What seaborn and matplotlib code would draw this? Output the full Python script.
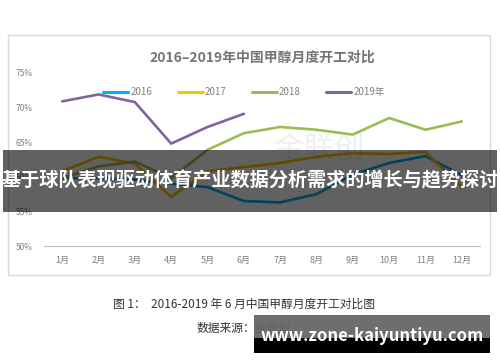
import numpy as np
import pandas as pd
import matplotlib
matplotlib.use('Agg')
import matplotlib.pyplot as plt
import seaborn as sns
from matplotlib.patches import Rectangle
from matplotlib.lines import Line2D

months = ['1月', '2月', '3月', '4月', '5月', '6月', '7月', '8月', '9月', '10月', '11月', '12月']
y2016 = [59.8, 59.8, 59.6, 59.0, 58.5, 56.5, 56.3, 57.5, 60.3, 62.0, 63.0, 60.2]
y2017 = [60.8, 62.9, 61.9, 57.1, 60.8, 61.4, 62.0, 62.9, 63.4, 63.3, 63.6, 58.5]
y2018 = [59.8, 61.5, 62.2, 59.8, 63.9, 66.3, 67.2, 66.8, 66.1, 68.5, 66.8, 68.0]
y2019 = [70.9, 71.9, 70.8, 64.8, 67.2, 69.1]
series = ['2016', '2017', '2018', '2019年']
colors = ['#00B0F0', '#FFC000', '#9BBB59', '#8064A2']
yticks = [50, 55, 60, 65, 70, 75]

rows = []
for name, vals in zip(series, [y2016, y2017, y2018, y2019]):
    for i, v in enumerate(vals):
        rows.append({'month': i, 'value': v, 'year': name})
df = pd.DataFrame(rows)

sns.set_theme(style='white')
plt.rcParams['font.family'] = ['Noto Sans CJK SC', 'DejaVu Sans']

fig = plt.figure(figsize=(5, 3.62), dpi=100)
W, H = 500, 362

def fx(x):
    return x / W

def fy(y):
    return 1 - y / H

# chart border
fig.patches.append(Rectangle((fx(8), fy(275)), fx(482), 240 / H, transform=fig.transFigure,
                             fill=False, edgecolor='#d9d9d9', linewidth=1.0, zorder=0))

ax = fig.add_axes([fx(44), fy(246), fx(436), (246 - 73) / H])
ax.patch.set_alpha(0)

# watermark
ax.text(0.63, 0.56, '金联创', transform=ax.transAxes, fontsize=22, color='#efefef',
        ha='center', va='center', zorder=0)
ax.text(0.6, 0.43, 'www.315i.com', transform=ax.transAxes, fontsize=8, color='#efefef',
        ha='center', va='center', zorder=0)

sns.lineplot(data=df, x='month', y='value', hue='year', palette=dict(zip(series, colors)),
             linewidth=1.9, ax=ax, legend=False, sort=False, zorder=3)

ax.set_xlim(-0.5, 11.5)
ax.set_ylim(50, 75)
ax.set_yticks(yticks)
ax.set_yticklabels([f'{t}%' for t in yticks], fontsize=6, color='#7f7f7f')
ax.set_xticks(range(12))
ax.set_xticklabels(months, fontsize=6.5, color='#7f7f7f')
ax.set_xticks(np.arange(-0.5, 12, 1), minor=True)
ax.tick_params(axis='x', which='major', length=0, pad=7)
ax.tick_params(axis='x', which='minor', length=3, color='#bfbfbf', width=0.8, direction='out')
ax.tick_params(axis='y', length=0, pad=8)
ax.set_xlabel('')
ax.set_ylabel('')
for s in ['top', 'right', 'left']:
    ax.spines[s].set_visible(False)
ax.spines['bottom'].set_color('#bfbfbf')
ax.spines['bottom'].set_linewidth(0.8)

fig.text(fx(262), fy(58), '2016–2019年中国甲醇月度开工对比', ha='center', va='center',
         fontsize=10, fontweight='bold', color='#757575')

handles = [Line2D([0], [0], color=c, lw=2.2) for c in colors]
fig.legend(handles, series, loc='center', bbox_to_anchor=(fx(244), fy(92)), ncol=4,
           frameon=False, fontsize=7, labelcolor='#7f7f7f', handlelength=2.6,
           handletextpad=0.2, columnspacing=2.6)

# overlay banner
fig.patches.append(Rectangle((fx(3), fy(212)), fx(494), 62 / H, transform=fig.transFigure,
                             facecolor='#000000', alpha=0.62, edgecolor='none', zorder=5))
fig.text(fx(250), fy(181), '基于球队表现驱动体育产业数据分析需求的增长与趋势探讨',
         ha='center', va='center', fontsize=13.8, fontweight='bold', color='white', zorder=6)

# caption
fig.text(fx(244), fy(304), '图 1：  2016-2019 年 6 月中国甲醇月度开工对比图', ha='center',
         va='center', fontsize=8.5, color='#333333')
fig.text(fx(197), fy(328), '数据来源：金联创', ha='left', va='center', fontsize=8.5,
         color='#333333')

fig.patches.append(Rectangle((fx(254), fy(338)), fx(236), 23 / H, transform=fig.transFigure,
                             facecolor='#666666', alpha=0.95, edgecolor='none', zorder=5))
fig.patches.append(Rectangle((fx(254), fy(353)), fx(236), 15 / H, transform=fig.transFigure,
                             facecolor='#000000', edgecolor='none', zorder=5))
fig.text(fx(372), fy(336), 'www.zone-kaiyuntiyu.com', ha='center', va='center',
         fontsize=12, fontweight='bold', color='white', zorder=6)

fig.savefig('out.png', dpi=100)
